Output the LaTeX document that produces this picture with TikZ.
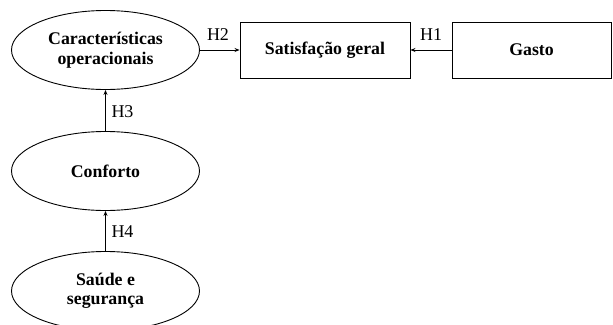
\documentclass[tikz,border=0pt]{standalone}
\usepackage{fontspec}
\setmainfont{Liberation Serif}
\newfontfamily\tnr{Liberation Serif}
\usetikzlibrary{arrows.meta,shapes.geometric}
\begin{document}
\begin{tikzpicture}[x=1pt,y=-1pt,
  lbl/.style={font=\tnr\fontsize{17.8}{19.5}\selectfont\bfseries, align=center},
  ell/.style={lbl, draw, line width=0.9pt, ellipse, minimum width=188pt, minimum height=79pt, inner sep=0pt},
  box/.style={lbl, draw, line width=0.9pt, rectangle, inner sep=0pt},
  arr/.style={draw, line width=0.9pt, -{Stealth[length=5pt,width=4pt]}},
  hlab/.style={font=\tnr\fontsize{18}{19}\selectfont, inner sep=0pt}
]
\useasboundingbox (0,0) rectangle (613,324);
\node[ell] (car) at (105.5,50) {Características\\operacionais};
\node[ell] (con) at (105.5,171) {Conforto};
\node[ell] (sau) at (105.5,291) {Saúde e\\segurança};
\node[box, minimum width=170pt, minimum height=56pt] (sat) at (325,50) {Satisfação geral};
\node[box, minimum width=159pt, minimum height=56pt] (gas) at (531.5,50) {Gasto};
\draw[arr] (car.east) -- (sat.west);
\draw[arr] (gas.west) -- (sat.east);
\draw[arr] (con.north) -- (car.south);
\draw[arr] (sau.north) -- (con.south);
\node[hlab] (h2) at (218,35) {H2};
\node[hlab] (h1) at (431,35) {H1};
\node[hlab] (h3) at (122.5,112) {H3};
\node[hlab] (h4) at (122.5,232) {H4};
\end{tikzpicture}
\end{document}
